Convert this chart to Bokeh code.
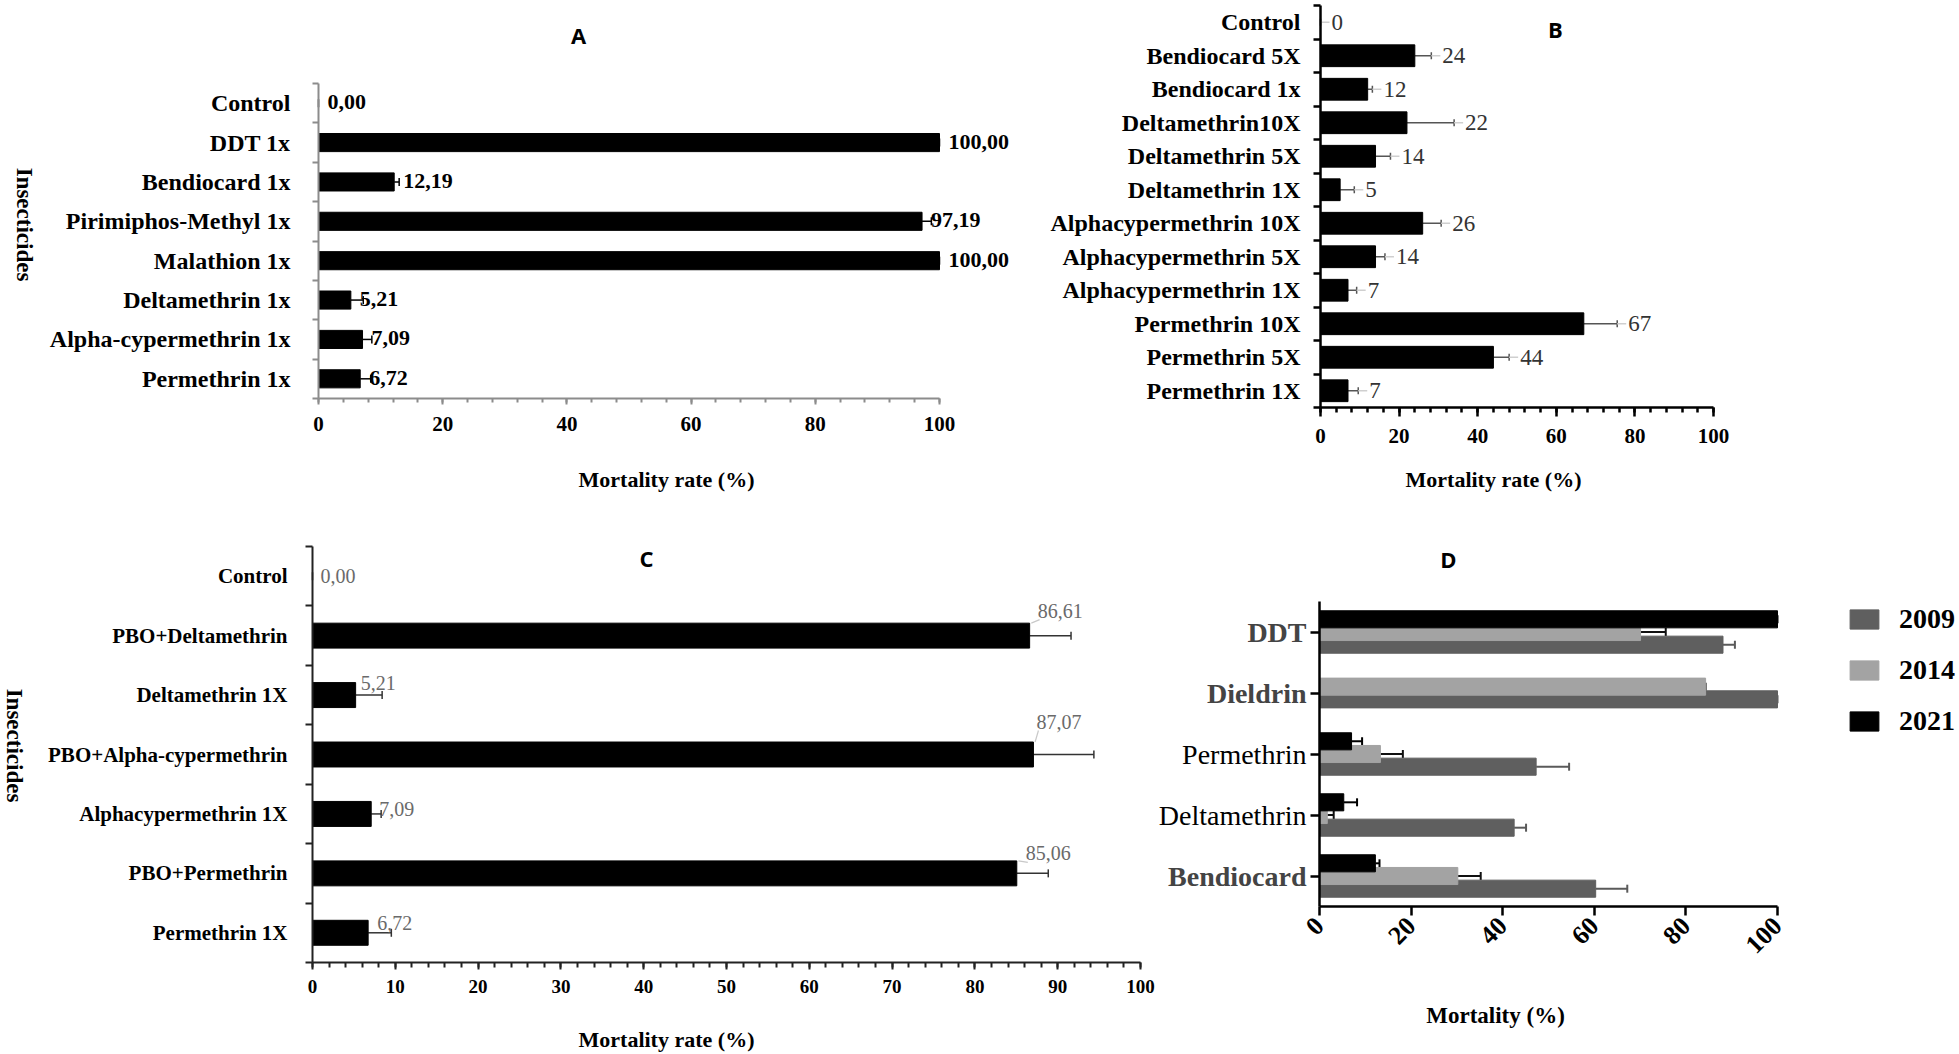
import math
from bokeh.plotting import figure
from bokeh.models import (Range1d, FixedTicker, Label, LabelSet, ColumnDataSource, LinearAxis,
                          Whisker, TeeHead, Legend, LegendItem)
from bokeh.layouts import row, column
from bokeh.embed import file_html
from bokeh.resources import INLINE

# ---------------- data ----------------
a_categories = ["Control", "DDT 1x", "Bendiocard 1x", "Pirimiphos-Methyl 1x", "Malathion 1x",
                "Deltamethrin 1x", "Alpha-cypermethrin 1x", "Permethrin 1x"]
a_values = [0.00, 100.00, 12.19, 97.19, 100.00, 5.21, 7.09, 6.72]
a_errors = [0.0, 0.0, 0.8, 1.5, 0.0, 2.0, 1.5, 1.7]

b_categories = ["Control", "Bendiocard 5X", "Bendiocard 1x", "Deltamethrin10X", "Deltamethrin 5X",
                "Deltamethrin 1X", "Alphacypermethrin 10X", "Alphacypermethrin 5X",
                "Alphacypermethrin 1X", "Permethrin 10X", "Permethrin 5X", "Permethrin 1X"]
b_values = [0, 24, 12, 22, 14, 5, 26, 14, 7, 67, 44, 7]
b_errors = [0, 4.2, 1.2, 12.0, 3.8, 3.6, 4.7, 2.4, 2.2, 8.5, 4.0, 2.6]

c_categories = ["Control", "PBO+Deltamethrin", "Deltamethrin 1X", "PBO+Alpha-cypermethrin",
                "Alphacypermethrin 1X", "PBO+Permethrin", "Permethrin 1X"]
c_values = [0.00, 86.61, 5.21, 87.07, 7.09, 85.06, 6.72]
c_errors = [0.0, 5.0, 3.2, 7.3, 1.2, 3.8, 2.8]

d_categories = ["DDT", "Dieldrin", "Permethrin", "Deltamethrin", "Bendiocard"]
d_years = ["2009", "2014", "2021"]
d_2009 = [88.1, 100.0, 47.3, 42.5, 60.3]
d_2009_err = [2.6, 0.0, 7.2, 2.6, 6.9]
d_2014 = [70.1, 84.3, 13.3, 1.7, 30.2]
d_2014_err = [5.5, 0.0, 4.9, 1.4, 5.0]
d_2021 = [100.0, float("nan"), 7.0, 5.3, 12.2]
d_2021_err = [0.0, float("nan"), 2.3, 2.9, 0.9]

# ---------------- styles / geometry ----------------
SERIF = "Liberation Serif"
SANS = "Open Sans"


class Panel:
    """A figure whose frame is the whole canvas; axes sit at fixed locations inside it."""

    def __init__(self, canvas, x0, x100, top, bottom, n):
        cx0, cy0, cx1, cy1 = canvas
        self.canvas = canvas
        self.ppu = (x100 - x0) / 100.0
        self.cat = (bottom - top) / n
        self.n = n
        p = figure(width=cx1 - cx0, height=cy1 - cy0, output_backend="svg",
                   toolbar_location=None,
                   x_range=Range1d((cx0 - x0) / self.ppu, (cx1 - x0) / self.ppu),
                   y_range=Range1d((cy1 - top) / self.cat - 0.5, (cy0 - top) / self.cat - 0.5),
                   min_border=0, min_border_left=0, min_border_right=0,
                   min_border_top=0, min_border_bottom=0)
        p.outline_line_color = None
        p.xgrid.visible = False
        p.ygrid.visible = False
        p.background_fill_color = "white"
        p.border_fill_color = "white"
        p.xaxis.fixed_location = n - 0.5
        p.yaxis.fixed_location = 0
        p.xaxis.bounds = (0, 100)
        p.yaxis.bounds = (-0.5, n - 0.5)
        self.p = p

    def text(self, px, py, text, size, bold=True, font=SERIF, angle=0.0, color="black"):
        cx0, cy0, cx1, cy1 = self.canvas
        self.p.add_layout(Label(x=px - cx0, y=cy1 - py, x_units="screen", y_units="screen",
                                text=text, text_font=font, text_font_size=f"{size}px",
                                text_font_style="bold" if bold else "normal",
                                text_align="center", text_baseline="middle", angle=angle,
                                text_color=color))


def style_x(ax, step, minor, color, width, major_out, minor_out, size, standoff):
    ax.ticker = FixedTicker(ticks=list(range(0, 101, step)),
                            minor_ticks=list(range(0, 101, minor)) if minor else [])
    ax.axis_line_color = color
    ax.axis_line_width = width
    ax.major_tick_line_color = color
    ax.major_tick_line_width = width
    ax.major_tick_out = major_out
    ax.major_tick_in = 0
    ax.minor_tick_line_color = color if minor else None
    ax.minor_tick_line_width = width
    ax.minor_tick_out = minor_out
    ax.minor_tick_in = 0
    ax.major_label_text_font = SERIF
    ax.major_label_text_font_size = f"{size}px"
    ax.major_label_text_font_style = "bold"
    ax.major_label_text_color = "black"
    ax.major_label_standoff = standoff


def style_y_boundary(ax, cats, color, width, tick_out, size, standoff):
    n = len(cats)
    ax.ticker = FixedTicker(ticks=list(range(n)), minor_ticks=[i - 0.5 for i in range(n + 1)])
    ax.major_label_overrides = {i: c for i, c in enumerate(cats)}
    ax.axis_line_color = color
    ax.axis_line_width = width
    ax.major_tick_line_color = None
    ax.major_tick_out = 0
    ax.major_tick_in = 0
    ax.minor_tick_line_color = color
    ax.minor_tick_line_width = width
    ax.minor_tick_out = tick_out
    ax.minor_tick_in = 0
    ax.major_label_text_font = SERIF
    ax.major_label_text_font_size = f"{size}px"
    ax.major_label_text_font_style = "bold"
    ax.major_label_text_color = "black"
    ax.major_label_standoff = standoff


def comma(v):
    return f"{v:.2f}".replace(".", ",")


# ================= Panel A =================
nA = len(a_categories)
PA = Panel((0, 0, 1035, 515), 318, 939, 83, 398, nA)
pA = PA.p
srcA = ColumnDataSource(dict(y=list(range(nA)), v=a_values,
                             hi=[v + e for v, e in zip(a_values, a_errors)],
                             lab=[comma(v) for v in a_values]))
pA.hbar(y="y", left=0, right="v", height=0.46, fill_color="black", line_color="black", source=srcA)
pA.add_layout(Whisker(source=srcA, base="y", lower="v", upper="hi", dimension="width",
                      line_color="black", line_width=1.5, lower_head=None,
                      upper_head=TeeHead(size=8, line_color="black", line_width=1.5)))
pA.add_layout(LabelSet(source=srcA, x="v", y="y", text="lab", x_offset=9, y_offset=1,
                       text_baseline="middle", text_font=SERIF, text_font_size="22px",
                       text_font_style="bold", text_color="black"))
style_x(pA.xaxis[0], 20, 4, "#8c8c8c", 2, 6, 4, 21, 12)
style_y_boundary(pA.yaxis[0], a_categories, "#8c8c8c", 2, 6, 24, 22)
PA.text(578, 34, "A", 22, font=SANS)
PA.text(666, 479, "Mortality rate (%)", 22)
PA.text(24, 224, "Insecticides", 23, angle=-math.pi / 2)

# ================= Panel B =================
nB = len(b_categories)
PB = Panel((1035, 0, 1959, 515), 1320, 1713, 5, 407, nB)
pB = PB.p
srcB = ColumnDataSource(dict(y=list(range(nB)), v=b_values,
                             hi=[v + e for v, e in zip(b_values, b_errors)],
                             lead=[v + e + 9 / PB.ppu for v, e in zip(b_values, b_errors)],
                             lab=[str(v) for v in b_values]))
pB.hbar(y="y", left=0, right="v", height=0.65, fill_color="black", line_color="black", source=srcB)
pB.segment(x0="hi", y0="y", x1="lead", y1="y", line_color="#cfcfcf", line_width=1.5, source=srcB)
pB.add_layout(Whisker(source=srcB, base="y", lower="v", upper="hi", dimension="width",
                      line_color="#555555", line_width=1.5, lower_head=None,
                      upper_head=TeeHead(size=7, line_color="#555555", line_width=1.5)))
pB.add_layout(LabelSet(source=srcB, x="hi", y="y", text="lab", x_offset=11,
                       text_baseline="middle", text_font=SERIF, text_font_size="23px",
                       text_font_style="normal", text_color="#333333"))
style_x(pB.xaxis[0], 20, 4, "black", 2.5, 9, 5, 21, 12)
style_y_boundary(pB.yaxis[0], b_categories, "black", 2.5, 7, 24, 13)
PB.text(1555, 28, "B", 22, font=SANS)
PB.text(1493, 479, "Mortality rate (%)", 22)

# ================= Panel C =================
nC = len(c_categories)
PC = Panel((0, 515, 1155, 1054), 312, 1140, 546, 962, nC)
pC = PC.p
c_label_dx = [8, 8, 5, 3, 8, 9, 9]      # label placement (screen px)
c_label_dy = [0, 25, 12, 33, 5, 20, 10]
srcC = ColumnDataSource(dict(y=list(range(nC)), v=c_values,
                             hi=[v + e for v, e in zip(c_values, c_errors)],
                             lab=[comma(v) for v in c_values],
                             dx=c_label_dx, dy=c_label_dy))
lead_idx = [i for i in range(nC) if c_label_dy[i] >= 20]
srcCL = ColumnDataSource(dict(
    x0=[c_values[i] + 0.2 for i in lead_idx],
    y0=[i - 0.21 for i in lead_idx],
    x1=[c_values[i] + (c_label_dx[i] + 2) / PC.ppu for i in lead_idx],
    y1=[i - (c_label_dy[i] - 9) / PC.cat for i in lead_idx]))
pC.hbar(y="y", left=0, right="v", height=0.42, fill_color="black", line_color="black", source=srcC)
pC.segment(x0="x0", y0="y0", x1="x1", y1="y1", line_color="#c8c8c8", line_width=1.2, source=srcCL)
pC.add_layout(Whisker(source=srcC, base="y", lower="v", upper="hi", dimension="width",
                      line_color="#333333", line_width=1.5, lower_head=None,
                      upper_head=TeeHead(size=8, line_color="#333333", line_width=1.5)))
pC.add_layout(LabelSet(source=srcC, x="v", y="y", text="lab", x_offset="dx", y_offset="dy",
                       text_baseline="middle", text_font=SERIF, text_font_size="20px",
                       text_font_style="normal", text_color="#6a6a6a"))
style_x(pC.xaxis[0], 10, 2, "#222222", 2, 7, 5, 19, 10)
style_y_boundary(pC.yaxis[0], c_categories, "#222222", 2, 7, 21, 18)
PC.text(646, 557, "C", 22, font=SANS)
PC.text(666, 1039, "Mortality rate (%)", 22)
PC.text(14, 745, "Insecticides", 23, angle=-math.pi / 2)

# ================= Panel D =================
nD = len(d_categories)
PD = Panel((1155, 515, 1959, 1054), 1319, 1777, 601, 906, nD)
pD = PD.p
STEP, BAR_H = 0.208, 0.28
series = {"2009": (d_2009, d_2009_err, "#5f5f5f", "#5a5a5a"),
          "2014": (d_2014, d_2014_err, "#a3a3a3", "#111111"),
          "2021": (d_2021, d_2021_err, "#000000", "#000000")}
stack_order = ["2021", "2014", "2009"]   # top to bottom inside a group
renderers = {}
for yr in d_years:   # 2009 drawn first, 2021 on top
    vals, errs, fill, ecol = series[yr]
    ys, vs, his = [], [], []
    for i in range(nD):
        if math.isnan(vals[i]):
            continue
        present = [s for s in stack_order if not math.isnan(series[s][0][i])]
        k, m = present.index(yr), len(present)
        ys.append(i + (k - (m - 1) / 2) * STEP)
        vs.append(vals[i])
        his.append(vals[i] + errs[i])
    src = ColumnDataSource(dict(y=ys, v=vs, hi=his))
    renderers[yr] = pD.hbar(y="y", left=0, right="v", height=BAR_H, fill_color=fill,
                            line_color=fill, source=src)
    pD.add_layout(Whisker(source=src, base="y", lower="v", upper="hi", dimension="width",
                          line_color=ecol, line_width=2, lower_head=None,
                          upper_head=TeeHead(size=8, line_color=ecol, line_width=2)))
style_x(pD.xaxis[0], 20, 0, "black", 2.5, 9, 0, 26, 6)
pD.xaxis[0].major_label_orientation = math.pi / 4

d_bold = [True, True, False, False, True]
ayD = pD.yaxis[0]
ayD.ticker = FixedTicker(ticks=list(range(nD)))
ayD.axis_line_color = "black"
ayD.axis_line_width = 2.5
ayD.major_tick_line_color = "black"
ayD.major_tick_line_width = 2.5
ayD.major_tick_out = 9
ayD.major_tick_in = 0
ayD.minor_tick_line_color = None
ayD.major_label_overrides = {i: (c if d_bold[i] else "") for i, c in enumerate(d_categories)}
ayD.major_label_text_font = SERIF
ayD.major_label_text_font_size = "28px"
ayD.major_label_text_font_style = "bold"
ayD.major_label_standoff = 4
ayD2 = LinearAxis(fixed_location=0, bounds=(-0.5, nD - 0.5),
                  ticker=FixedTicker(ticks=list(range(nD))),
                  major_label_overrides={i: ("" if d_bold[i] else c) for i, c in enumerate(d_categories)},
                  axis_line_color=None, major_tick_line_color=None, minor_tick_line_color=None,
                  major_tick_out=9, major_tick_in=0, major_label_standoff=4,
                  major_label_text_font=SERIF, major_label_text_font_size="28px",
                  major_label_text_font_style="normal", major_label_text_color="black")
pD.add_layout(ayD2, "left")

legend = Legend(items=[LegendItem(label=yr, renderers=[renderers[yr]]) for yr in d_years],
                location=(691, 317), orientation="vertical", glyph_width=36, glyph_height=24,
                label_standoff=17, spacing=19, padding=0, margin=0, border_line_color=None,
                background_fill_alpha=0, label_text_font=SERIF, label_text_font_size="28px",
                label_text_font_style="bold", label_text_color="black")
pD.add_layout(legend)
PD.text(1448, 558, "D", 22, font=SANS)
PD.text(1495, 1015, "Mortality (%)", 23)

layout = column(row(pA, pB), row(pC, pD))
open("out.html", "w").write(file_html(layout, INLINE))
